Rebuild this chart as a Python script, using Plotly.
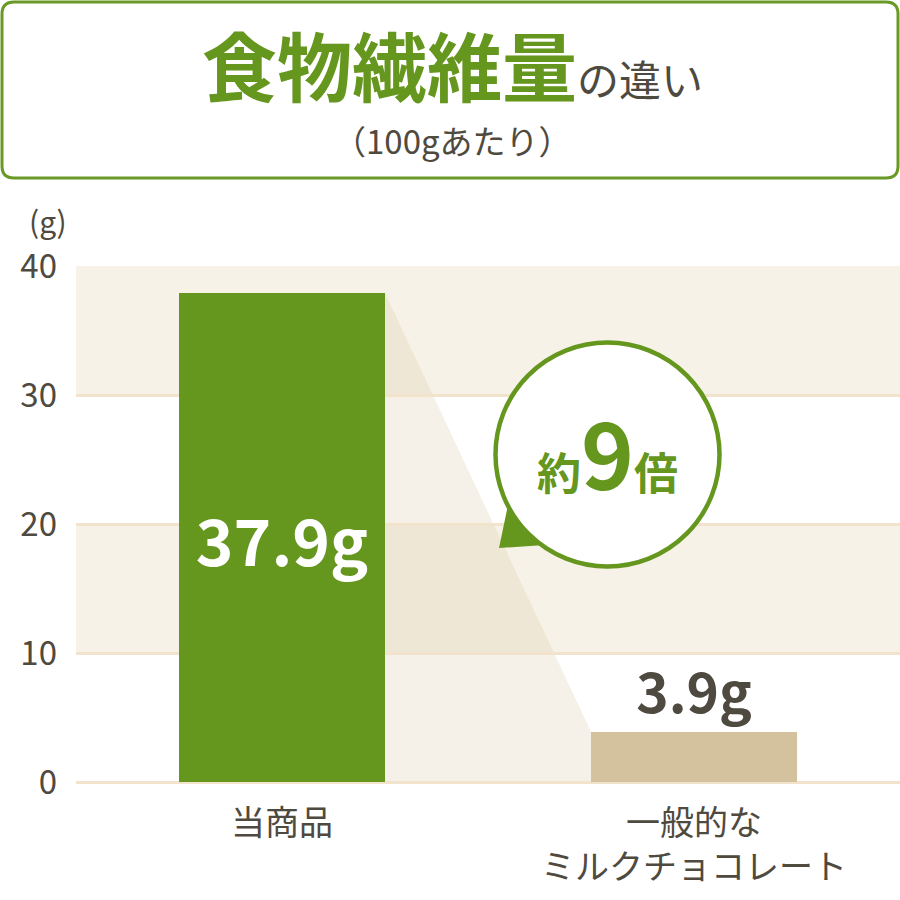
import plotly.graph_objects as go

categories = ["当商品", "一般的な<br>ミルクチョコレート"]
values = [37.9, 3.9]
bar_colors = ["#65961e", "#d4c29e"]
y_ticks = [0, 10, 20, 30, 40]
title_main = "食物繊維量"
title_tail = "の違い"
subtitle = "（100gあたり）"
unit_label = "(g)"
ratio_label = ["約", "9", "倍"]

W, H = 900, 900
ML, MR, MT, MB = 76, 0, 266, 118
PW, PH = W - ML - MR, H - MT - MB

GREEN = "#65961e"
GRAY = "#4f4a40"
BAND = "#f7f2e7"
GRID = "#f2e3cd"
FONT = "Noto Sans CJK JP"


def px(x):
    return (x - ML) / PW


def py(y):
    return (H - MB - y) / PH


fig = go.Figure()

fig.add_trace(go.Bar(
    x=list(range(len(categories))),
    y=values,
    width=0.5,
    marker=dict(color=bar_colors, line=dict(width=0)),
    texttemplate="%{y}g",
    textposition=["inside", "outside"],
    insidetextanchor="middle",
    insidetextfont=dict(family=FONT, size=64, color="white", weight="bold"),
    outsidetextfont=dict(family=FONT, size=55, color=GRAY, weight="bold"),
    cliponaxis=False,
    hoverinfo="skip",
))

shapes = []
# background bands
for lo, hi in [(10, 20), (30, 40)]:
    shapes.append(dict(type="rect", xref="paper", yref="y", x0=0, x1=1, y0=lo, y1=hi,
                       fillcolor=BAND, line=dict(width=0), layer="below"))
# shading trapezoid between bars (data coords)
half = 0.25
shapes.append(dict(
    type="path", xref="x", yref="y",
    path=f"M {0 + half},{values[0]} L {1 - half},{values[1]} L {1 - half},0 L {0 + half},0 Z",
    fillcolor="rgba(212,192,150,0.22)", line=dict(width=0), layer="below"))

# title box (rounded rectangle), paper coords
bx0, bx1, by0, by1, r = 2, 898, 2, 178, 12
rx, ry = r / PW, r / PH
X0, X1, Y0, Y1 = px(bx0), px(bx1), py(by0), py(by1)
path = (f"M {X0 + rx},{Y0} L {X1 - rx},{Y0} Q {X1},{Y0} {X1},{Y0 - ry} "
        f"L {X1},{Y1 + ry} Q {X1},{Y1} {X1 - rx},{Y1} L {X0 + rx},{Y1} "
        f"Q {X0},{Y1} {X0},{Y1 + ry} L {X0},{Y0 - ry} Q {X0},{Y0} {X0 + rx},{Y0} Z")
shapes.append(dict(type="path", xref="paper", yref="paper", path=path,
                   fillcolor="white", line=dict(color="#6a9a26", width=3), layer="above"))

# speech bubble tail
tail = [(499, 548), (508, 505), (545, 545)]
tp = "M " + " L ".join(f"{px(a)},{py(b)}" for a, b in tail) + " Z"
shapes.append(dict(type="path", xref="paper", yref="paper", path=tp,
                   fillcolor=GREEN, line=dict(width=0), layer="above"))
# speech bubble circle
cx, cy, cr = 607.5, 454.5, 112
shapes.append(dict(type="circle", xref="paper", yref="paper",
                   x0=px(cx - cr), x1=px(cx + cr), y0=py(cy + cr), y1=py(cy - cr),
                   fillcolor="white", line=dict(color=GREEN, width=4.5), layer="above"))

annotations = [
    dict(xref="paper", yref="paper", x=px(452), y=py(64), xanchor="center", yanchor="middle",
         showarrow=False,
         text=(f'<span style="font-size:75px;color:{GREEN};font-weight:bold">{title_main}</span>'
               f'<span style="font-size:42px;color:{GRAY}">{title_tail}</span>'),
         font=dict(family=FONT, size=42, color=GRAY)),
    dict(xref="paper", yref="paper", x=px(452), y=py(140), xanchor="center", yanchor="middle",
         showarrow=False, text=subtitle, font=dict(family=FONT, size=33, color=GRAY)),
    dict(xref="paper", yref="paper", x=px(48), y=py(220), xanchor="center", yanchor="middle",
         showarrow=False, text=unit_label, font=dict(family=FONT, size=30, color=GRAY)),
    dict(xref="paper", yref="paper", x=px(607), y=py(451), xanchor="center", yanchor="middle",
         showarrow=False,
         text=(f'<span style="font-size:44px">{ratio_label[0]}</span>'
               f'<span style="font-size:90px">{ratio_label[1]}</span>'
               f'<span style="font-size:44px">{ratio_label[2]}</span>'),
         font=dict(family=FONT, size=44, color=GREEN, weight="bold")),
]

fig.update_layout(
    width=W, height=H,
    margin=dict(l=ML, r=MR, t=MT, b=MB, pad=0),
    paper_bgcolor="white", plot_bgcolor="white",
    showlegend=False,
    bargap=0,
    shapes=shapes,
    annotations=annotations,
    xaxis=dict(
        range=[-0.5, 1.5],
        tickmode="array", tickvals=list(range(len(categories))), ticktext=categories,
        tickfont=dict(family=FONT, size=34, color=GRAY),
        showgrid=False, zeroline=False, showline=False, ticks="",
        ticklabelstandoff=18,
        fixedrange=True,
    ),
    yaxis=dict(
        range=[0, 40],
        tickmode="array", tickvals=y_ticks,
        tickfont=dict(family=FONT, size=33, color=GRAY),
        showgrid=True, gridcolor=GRID, gridwidth=3,
        zeroline=True, zerolinecolor=GRID, zerolinewidth=3,
        showline=False, ticks="",
        ticklabelstandoff=18,
        fixedrange=True,
    ),
)

fig.write_html("out.html", config={"displayModeBar": False},
               post_script="document.body.style.margin='0';document.body.style.padding='0';")
